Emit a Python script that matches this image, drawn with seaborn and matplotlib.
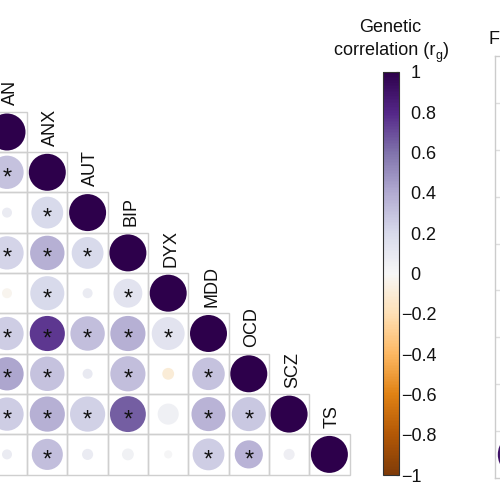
import numpy as np
import pandas as pd
import matplotlib
matplotlib.use("Agg")
import matplotlib.pyplot as plt
import seaborn as sns
from matplotlib.patches import Rectangle
from matplotlib.colors import Normalize
import matplotlib.colorbar as mcolorbar

# ---------------- data ----------------
traits = ["AN", "ANX", "AUT", "BIP", "DYX", "MDD", "OCD", "SCZ", "TS"]

# genetic correlations (lower triangle, row by row, including diagonal)
rg_rows = [
    [1.00],
    [0.30, 1.00],
    [0.08, 0.20, 1.00],
    [0.22, 0.38, 0.20, 1.00],
    [-0.03, 0.20, 0.08, 0.14, 1.00],
    [0.25, 0.75, 0.32, 0.38, 0.14, 1.00],
    [0.42, 0.30, 0.10, 0.32, -0.10, 0.30, 1.00],
    [0.25, 0.38, 0.24, 0.65, 0.05, 0.36, 0.28, 1.00],
    [0.08, 0.32, 0.08, 0.04, 0.01, 0.25, 0.36, 0.06, 1.00],
]

# significance (star) flags
sig_rows = [
    [0],
    [1, 0],
    [0, 1, 0],
    [1, 1, 1, 0],
    [0, 1, 0, 1, 0],
    [1, 1, 1, 1, 1, 0],
    [1, 1, 0, 1, 0, 1, 0],
    [1, 1, 1, 1, 0, 1, 1, 0],
    [0, 1, 0, 0, 0, 1, 1, 0, 0],
]

# relative circle size (diameter relative to diagonal circles)
size_rows = [
    [1.00],
    [0.90, 1.00],
    [0.27, 0.86, 1.00],
    [0.90, 0.93, 0.86, 1.00],
    [0.27, 0.92, 0.27, 0.78, 1.00],
    [0.90, 0.95, 0.93, 0.95, 0.89, 1.00],
    [0.90, 0.93, 0.27, 0.95, 0.32, 0.88, 1.00],
    [0.90, 0.95, 0.95, 0.97, 0.57, 0.92, 0.92, 1.00],
    [0.27, 0.84, 0.30, 0.32, 0.22, 0.86, 0.76, 0.30, 1.00],
]

cbar_ticks = [-1, -0.8, -0.6, -0.4, -0.2, 0, 0.2, 0.4, 0.6, 0.8, 1]

# partially visible neighbouring panel (cut at right edge)
right_rows = [7, 8]
right_vals = [0.9, 0.9]
right_sizes = [0.78, 1.2]

# ---------------- figure ----------------
sns.set_theme(style="white")
plt.rcParams["font.family"] = ["Liberation Sans", "DejaVu Sans"]

DPI = 100
fig = plt.figure(figsize=(5, 5), dpi=DPI)

cell_px = 40.3
left_px = 7 - cell_px / 2
top_px = 132 - cell_px / 2
n = len(traits)
ax = fig.add_axes([left_px / 500, (500 - (top_px + n * cell_px)) / 500,
                   n * cell_px / 500, n * cell_px / 500])

rows = []
for i, (rr, ss, gg) in enumerate(zip(rg_rows, sig_rows, size_rows)):
    for j, (r, s, g) in enumerate(zip(rr, ss, gg)):
        rows.append(dict(row=i, col=j, rg=r, sig=s, rel=g))
df = pd.DataFrame(rows)

diag_px = 37.0
df["area"] = (df["rel"] * diag_px * 72 / DPI) ** 2
amin, amax = df["area"].min(), df["area"].max()

# cell grid
for _, d in df.iterrows():
    ax.add_patch(Rectangle((d["col"] - 0.5, d["row"] - 0.5), 1, 1,
                           facecolor="none", edgecolor="#cfcfcf", lw=1.0,
                           zorder=0, clip_on=False))

sns.scatterplot(data=df, x="col", y="row", hue="rg", palette="PuOr",
                hue_norm=(-1, 1), size="area", sizes=(amin, amax),
                size_norm=(amin, amax), legend=False, linewidth=0,
                ax=ax, zorder=2, clip_on=False)

for _, d in df[df["sig"] == 1].iterrows():
    ax.text(d["col"], d["row"] + 0.15, "*", ha="center", va="center",
            fontsize=17, color="#111111", zorder=3)

for k, t in enumerate(traits):
    ax.text(k + 0.08, k - 0.5 - 0.16, t, rotation=90, ha="center",
            va="bottom", fontsize=13, color="#111111")

ax.set_xlim(-0.5, n - 0.5)
ax.set_ylim(n - 0.5, -0.5)
ax.axis("off")

# ---------------- colorbar ----------------
cax = fig.add_axes([383 / 500, 25 / 500, 16 / 500, 403 / 500])
cmap = sns.color_palette("PuOr", as_cmap=True)
cb = mcolorbar.ColorbarBase(cax, cmap=cmap, norm=Normalize(-1, 1),
                            orientation="vertical")
cb.set_ticks(cbar_ticks)
labels = []
for v in cbar_ticks:
    if v < 0:
        labels.append("\u2212" + f"{abs(v):g}")
    else:
        labels.append("\u2007" + f"{v:g}")
cb.set_ticklabels(labels)
cax.tick_params(axis="y", direction="in", length=2.5, width=0.8, pad=1.5,
                labelsize=13, colors="#111111", right=True, left=False)
cb.outline.set_linewidth(0.8)
cb.outline.set_edgecolor("#333333")

# colorbar title (composed so the plain text keeps normal letter spacing)
fig.text(390 / 500, 1 - 27 / 500, "Genetic", ha="center", va="center",
         fontsize=13, color="#111111")
base_y = 1 - 55 / 500
t1 = fig.text(0, base_y, "correlation (r", ha="left", va="baseline",
              fontsize=13, color="#111111")
t2 = fig.text(0, base_y - 4 / 500, "g", ha="left", va="baseline",
              fontsize=9, color="#111111")
t3 = fig.text(0, base_y, ")", ha="left", va="baseline",
              fontsize=13, color="#111111")
fig.canvas.draw()
r = fig.canvas.get_renderer()
w1 = t1.get_window_extent(r).width
w2 = t2.get_window_extent(r).width
w3 = t3.get_window_extent(r).width
total = w1 + w2 + w3
x0 = 391 - total / 2
t1.set_x(x0 / 500)
t2.set_x((x0 + w1 + 0.5) / 500)
t3.set_x((x0 + w1 + w2 + 0.5) / 500)

# ---------------- partial neighbouring panel ----------------
ax2 = fig.add_axes([495 / 500, (500 - 478) / 500, 120 / 500, (478 - 56) / 500])
ax2.set_xlim(0, 120)
ax2.set_ylim(8.5, -0.5)
for y in np.arange(0.5, 8.5, 1.0):
    ax2.axhline(y, color="#dddddd", lw=1)
for sp in ax2.spines.values():
    sp.set_color("#cccccc")
    sp.set_linewidth(1)
ax2.set_xticks([])
ax2.set_yticks([])
ax2.scatter([21, 25], right_rows,
            s=[(v * 37 * 0.72) ** 2 for v in right_sizes],
            c=right_vals, cmap=cmap, vmin=-1, vmax=1, linewidths=0)
fig.text(489 / 500, 1 - 39 / 500, "F", ha="left", va="center", fontsize=13,
         color="#111111")

fig.savefig("out.png", dpi=DPI)
